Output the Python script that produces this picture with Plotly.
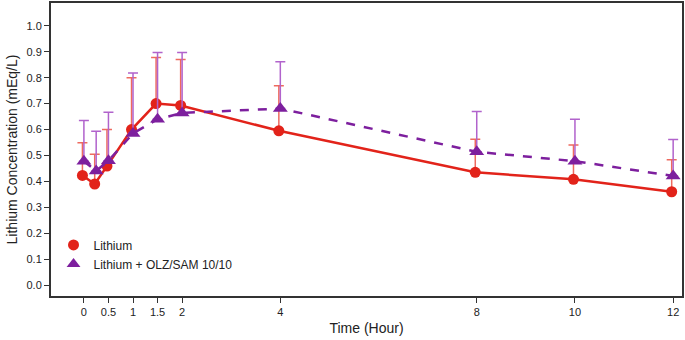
import plotly.graph_objects as go

time_h = [0, 0.25, 0.5, 1, 1.5, 2, 4, 8, 10, 12]
x_ticks = [0, 0.5, 1, 1.5, 2, 4, 8, 10, 12]
x_tick_labels = ["0", "0.5", "1", "1.5", "2", "4", "8", "10", "12"]

lithium_mean = [0.423, 0.390, 0.459, 0.600, 0.700, 0.693, 0.595, 0.435, 0.408, 0.360]
lithium_sd_top = [0.549, 0.505, 0.600, 0.800, 0.878, 0.870, 0.769, 0.563, 0.540, 0.483]

combo_mean = [0.478, 0.440, 0.480, 0.585, 0.640, 0.664, 0.681, 0.514, 0.478, 0.421]
combo_sd_top = [0.635, 0.593, 0.667, 0.818, 0.897, 0.897, 0.861, 0.670, 0.640, 0.562]

lithium_sd = [t - m for t, m in zip(lithium_sd_top, lithium_mean)]
combo_sd = [t - m for t, m in zip(combo_sd_top, combo_mean)]

RED = "#E2231A"
RED_ERR = "#EE6A5F"
PURPLE = "#7D1F9E"
PURPLE_ERR = "#B163CC"
DODGE = 0.03
FONT = "Liberation Sans, Arial, sans-serif"

fig = go.Figure()

fig.add_trace(go.Scatter(
    x=[t - DODGE for t in time_h], y=lithium_mean, mode="lines+markers",
    line=dict(color=RED, width=2.5),
    marker=dict(symbol="circle", size=11, color=RED),
    error_y=dict(type="data", array=lithium_sd, arrayminus=[0] * len(lithium_sd),
                 symmetric=False, color=RED_ERR, thickness=1.5, width=5),
    showlegend=False,
))
fig.add_trace(go.Scatter(
    x=time_h, y=combo_mean, mode="lines+markers",
    line=dict(color=PURPLE, width=2.5, dash="dash"),
    marker=dict(symbol="triangle-up", size=13, color=PURPLE),
    error_y=dict(type="data", array=combo_sd, arrayminus=[0] * len(combo_sd),
                 symmetric=False, color=PURPLE_ERR, thickness=1.5, width=5),
    showlegend=False,
))
# legend-only entries (markers only)
fig.add_trace(go.Scatter(x=[None], y=[None], mode="markers", name="Lithium",
                         marker=dict(symbol="circle", size=11, color=RED)))
fig.add_trace(go.Scatter(x=[None], y=[None], mode="markers", name="Lithium + OLZ/SAM 10/10",
                         marker=dict(symbol="triangle-up", size=12, color=PURPLE)))

fig.update_layout(
    width=685, height=340,
    margin=dict(l=51, r=1, t=3, b=44),
    paper_bgcolor="white", plot_bgcolor="white",
    font=dict(family=FONT, size=11, color="#222"),
    legend=dict(x=0.004, y=0.142, xanchor="left", yanchor="middle",
                font=dict(size=12, color="#222"), bgcolor="rgba(0,0,0,0)",
                itemwidth=30, tracegroupgap=0),
    xaxis=dict(
        range=[-0.67, 12.18], tickmode="array", tickvals=x_ticks, ticktext=x_tick_labels,
        showline=True, linecolor="#333", linewidth=2, mirror=True,
        ticks="outside", ticklen=5, tickcolor="#333", tickwidth=1,
        showgrid=False, zeroline=False,
        title=dict(text="Time (Hour)", font=dict(size=14), standoff=6),
    ),
    yaxis=dict(
        range=[-0.042, 1.088], tickmode="linear", tick0=0, dtick=0.1, tickformat=".1f",
        showline=True, linecolor="#333", linewidth=2, mirror=True,
        ticks="outside", ticklen=5, tickcolor="#333", tickwidth=1,
        showgrid=False, zeroline=False,
        title=dict(text="Lithium Concentration (mEq/L)", font=dict(size=14), standoff=6),
    ),
)

fig.write_html("out.html", config={"displayModeBar": False},
               post_script="document.body.style.margin='0';")
